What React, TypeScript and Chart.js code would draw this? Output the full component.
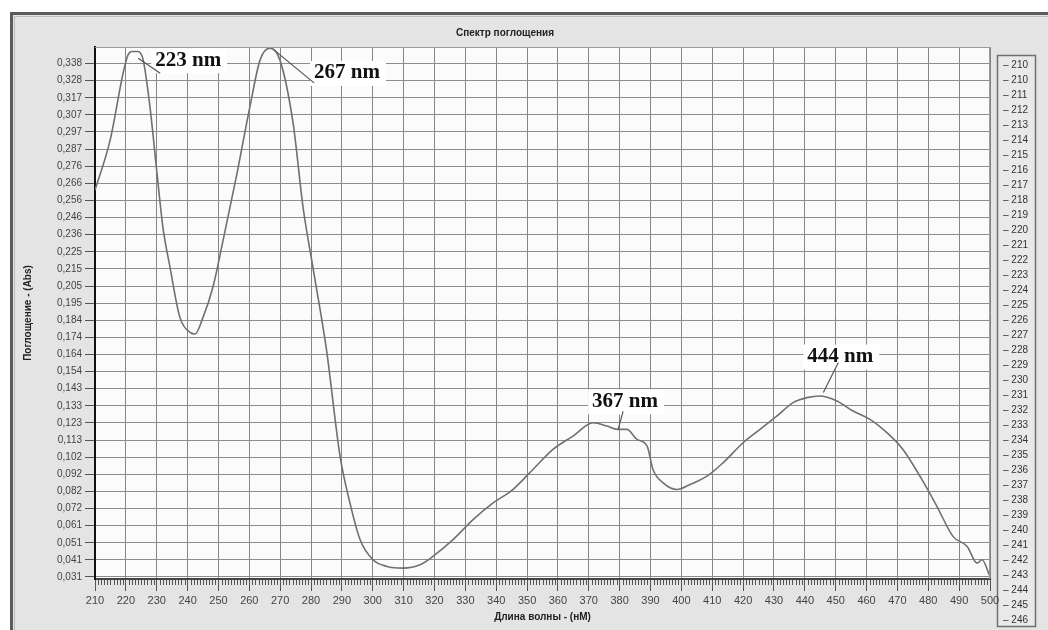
import React, { useEffect, useRef } from 'react';
import { Chart, registerables } from 'chart.js';

Chart.register(...registerables);

// ---------- data ----------
const wavelengths = [
  210, 214.9, 219.1, 220.7, 222.0, 223.9, 225.6, 227.8, 230.1, 232.0,
  234.3, 237.5, 240.8, 242.4, 245.0, 248.2, 251.5, 256.0, 260.2, 263.5,
  266.7, 269.9, 274.2, 277.4, 280.6, 284.9, 289.4, 292.6, 295.9, 300.1,
  304.6, 309.8, 315.3, 319.5, 326.0, 332.5, 339.0, 345.4, 351.9, 358.4,
  364.9, 371.4, 375.9, 379.2, 382.4, 385.6, 388.9, 390.8, 394.1, 398.6,
  402.8, 408.3, 413.5, 420.0, 425.5, 431.0, 436.2, 440.7, 444.9, 450.4,
  455.6, 461.1, 466.6, 471.8, 477.3, 482.8, 488.0, 492.6, 495.8, 497.4,
  500,
];
const absorbance = [
  0.262, 0.292, 0.332, 0.343, 0.345, 0.345, 0.340, 0.312, 0.272, 0.240,
  0.216, 0.186, 0.177, 0.176, 0.186, 0.204, 0.232, 0.272, 0.312, 0.340,
  0.347, 0.340, 0.302, 0.252, 0.216, 0.168, 0.103, 0.075, 0.053, 0.041,
  0.037, 0.036, 0.038, 0.043, 0.053, 0.065, 0.075, 0.083, 0.095, 0.107,
  0.115, 0.123, 0.121, 0.119, 0.119, 0.113, 0.109, 0.095, 0.087, 0.083,
  0.086, 0.091, 0.099, 0.111, 0.119, 0.127, 0.135, 0.138, 0.139, 0.136,
  0.130, 0.125, 0.117, 0.107, 0.091, 0.073, 0.055, 0.049, 0.039, 0.041,
  0.031,
];

const yTickLabels = [
  '0,031', '0,041', '0,051', '0,061', '0,072', '0,082', '0,092', '0,102',
  '0,113', '0,123', '0,133', '0,143', '0,154', '0,164', '0,174', '0,184',
  '0,195', '0,205', '0,215', '0,225', '0,236', '0,246', '0,256', '0,266',
  '0,276', '0,287', '0,297', '0,307', '0,317', '0,328', '0,338',
];
const Y_FIRST_TICK = 0.0307;
const Y_TICK_STEP = 0.010237;
const Y_MIN = 0.0295;
const Y_MAX = 0.3477;
const X_MIN = 210;
const X_MAX = 500;
const X_STEP = 10;

const legendItems = [
  '210', '210', '211', '212', '213', '214', '215', '216', '217', '218',
  '219', '220', '221', '222', '223', '224', '225', '226', '227', '228',
  '229', '230', '231', '232', '233', '234', '235', '236', '237', '238',
  '239', '240', '241', '242', '243', '244', '245', '246',
];

const peakLabels = ['223 nm', '267 nm', '367 nm', '444 nm'];
const peakAnchorNm = [224, 268, 379.5, 446];
const peakAnchorAbs = [0.341, 0.346, 0.119, 0.141];

const TITLE = 'Спектр поглощения';
const X_TITLE = 'Длина волны - (нМ)';
const Y_TITLE = 'Поглощение - (Abs)';

// ---------- layout / style ----------
const peakLeaderEnd = [[22, 15], [40, 33], [5, -18], [15, -30]];
const peakTextAt = [[17, 2], [40, 23], [-26, -28], [-16, -36]];
const SANS = '"Liberation Sans", Arial, sans-serif';

const yTickValues = yTickLabels.map((_, k) => Y_FIRST_TICK + k * Y_TICK_STEP);

const decor = {
  id: 'decor',
  beforeDraw(chart: any) {
    const { ctx, width, height, chartArea: a } = chart;
    ctx.save();
    ctx.fillStyle = '#ffffff';
    ctx.fillRect(0, 0, width, height);
    ctx.fillStyle = '#e4e4e4';
    ctx.fillRect(11, 13, width - 11, height - 13);
    ctx.strokeStyle = '#5c5c5c';
    ctx.lineWidth = 3;
    ctx.beginPath();
    ctx.moveTo(11.5, height);
    ctx.lineTo(11.5, 13.5);
    ctx.lineTo(width, 13.5);
    ctx.stroke();
    ctx.strokeStyle = '#bdbdbd';
    ctx.lineWidth = 1;
    ctx.beginPath();
    ctx.moveTo(14.5, height);
    ctx.lineTo(14.5, 16.5);
    ctx.lineTo(width, 16.5);
    ctx.stroke();
    ctx.fillStyle = '#fbfbfb';
    ctx.fillRect(a.left, a.top, a.right - a.left, a.bottom - a.top);

    // title
    ctx.fillStyle = '#222';
    ctx.font = 'bold 10px ' + SANS;
    ctx.textAlign = 'center';
    ctx.textBaseline = 'middle';
    ctx.fillText(TITLE, 505, 33);

    // legend box
    ctx.fillStyle = '#e9e9e9';
    ctx.fillRect(997, 55, 39, 572);
    ctx.strokeStyle = '#6f6f6f';
    ctx.lineWidth = 1.5;
    ctx.strokeRect(997.5, 55.5, 38, 571);
    ctx.fillStyle = '#333';
    ctx.font = '10px ' + SANS;
    ctx.textAlign = 'left';
    legendItems.forEach((t, i) => {
      ctx.fillText('– ' + t, 1003, 65 + i * 15);
    });
    ctx.restore();
  },
  afterDatasetsDraw(chart: any) {
    const { ctx, chartArea: a, scales } = chart;
    const xs = scales.x;
    const ys = scales.y;
    ctx.save();
    // plot border top/right
    ctx.strokeStyle = '#9a9a9a';
    ctx.lineWidth = 1;
    ctx.beginPath();
    ctx.moveTo(a.left, a.top + 0.5);
    ctx.lineTo(a.right - 0.5, a.top + 0.5);
    ctx.lineTo(a.right - 0.5, a.bottom);
    ctx.stroke();

    // minor ticks every 1 nm
    ctx.strokeStyle = '#555';
    ctx.lineWidth = 1;
    ctx.beginPath();
    for (let nm = X_MIN; nm <= X_MAX; nm++) {
      if (nm % X_STEP === 0) continue;
      const px = Math.round(xs.getPixelForValue(nm)) + 0.5;
      ctx.moveTo(px, a.bottom + 1);
      ctx.lineTo(px, a.bottom + 6);
    }
    ctx.stroke();

    // peak annotations
    ctx.font = 'bold 21px "Liberation Serif", "Times New Roman", serif';
    ctx.textBaseline = 'middle';
    ctx.textAlign = 'left';
    peakLabels.forEach((label, i) => {
      const px = xs.getPixelForValue(peakAnchorNm[i]);
      const py = ys.getPixelForValue(peakAnchorAbs[i]);
      const tx = px + peakTextAt[i][0];
      const ty = py + peakTextAt[i][1];
      const w = ctx.measureText(label).width;
      ctx.fillStyle = '#ffffff';
      ctx.fillRect(tx - 4, ty - 12, w + 10, 25);
      ctx.strokeStyle = '#555';
      ctx.lineWidth = 1.2;
      ctx.beginPath();
      ctx.moveTo(px, py);
      ctx.lineTo(px + peakLeaderEnd[i][0], py + peakLeaderEnd[i][1]);
      ctx.stroke();
      ctx.fillStyle = '#111';
      ctx.fillText(label, tx, ty);
    });
    ctx.restore();
  },
};

export default function App() {
  const ref = useRef<HTMLCanvasElement>(null);
  useEffect(() => {
    document.body.style.margin = '0';
    const points = wavelengths.map((w, i) => ({ x: w, y: absorbance[i] }));
    const chart = new Chart(ref.current as HTMLCanvasElement, {
      type: 'line',
      data: {
        datasets: [
          {
            label: 'Absorbance',
            data: points,
            borderColor: '#6c7176',
            borderWidth: 1.6,
            pointRadius: 0,
            cubicInterpolationMode: 'monotone',
            fill: false,
          },
        ],
      },
      options: {
        responsive: false,
        animation: false,
        layout: { padding: { top: 47, right: 58, left: 0, bottom: 0 } },
        plugins: {
          legend: { display: false },
          tooltip: { enabled: false },
          title: { display: false },
        },
        scales: {
          x: {
            type: 'linear',
            min: X_MIN,
            max: X_MAX,
            ticks: {
              stepSize: X_STEP,
              autoSkip: false,
              maxRotation: 0,
              padding: 3,
              color: '#444',
              font: { family: SANS, size: 11 },
            },
            grid: { color: '#858585', tickColor: '#555', tickLength: 12, lineWidth: 1 },
            border: { color: '#444', width: 2 },
            title: {
              display: true,
              text: X_TITLE,
              color: '#222',
              font: { family: SANS, size: 10, weight: 'bold' },
              padding: { top: 0, bottom: 7 },
            },
            afterFit(s: any) {
              s.height = 51;
            },
          },
          y: {
            type: 'linear',
            min: Y_MIN,
            max: Y_MAX,
            afterBuildTicks(s: any) {
              s.ticks = yTickValues.map((v) => ({ value: v }));
            },
            ticks: {
              autoSkip: false,
              padding: 3,
              color: '#444',
              font: { family: SANS, size: 10 },
              callback: (_v: any, i: number) => yTickLabels[i],
            },
            grid: { color: '#8c8c8c', tickColor: '#555', tickLength: 10, lineWidth: 1 },
            border: { color: '#111', width: 2 },
            title: {
              display: true,
              text: Y_TITLE,
              color: '#222',
              font: { family: SANS, size: 10, weight: 'bold' },
              padding: { top: 22, bottom: 0 },
            },
            afterFit(s: any) {
              s.width = 95;
            },
          },
        },
      } as any,
      plugins: [decor],
    });
    return () => chart.destroy();
  }, []);
  return (
    <div style={{ position: 'fixed', left: 0, top: 0, width: 1048, height: 630 }}>
      <canvas ref={ref} width={1048} height={630} style={{ display: 'block' }} />
    </div>
  );
}
